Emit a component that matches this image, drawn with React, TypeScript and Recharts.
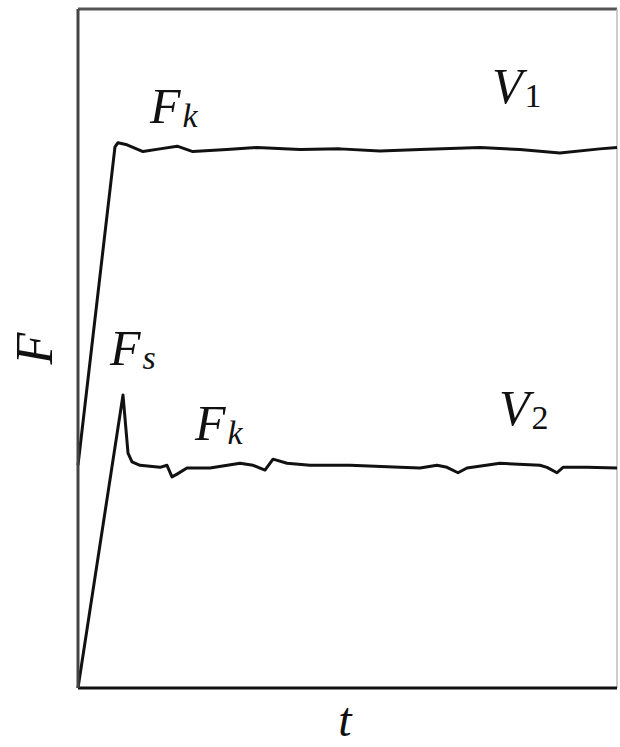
import React from 'react';
import { LineChart, Line, XAxis, YAxis, ReferenceLine, ReferenceDot } from 'recharts';

// friction force F against time t, for two pulling speeds
const v1Time = [0, 6.86, 7.42, 9.09, 12.06, 15.2, 18.4, 21.3, 27.6, 33.2, 41.2, 48.6, 56.0, 63.5, 74.6, 82.0, 89.4, 96.8, 100];
const v1Force = [32.8, 79.7, 80.3, 80.0, 79.0, 79.4, 79.8, 79.0, 79.3, 79.6, 79.3, 79.4, 79.1, 79.3, 79.6, 79.3, 78.8, 79.4, 79.6];

const v2Time = [0, 8.35, 9.28, 10.02, 11.5, 15.21, 16.51, 17.44, 18.37, 20.22, 24.49, 30.06, 32.47, 34.69, 36.18, 38.78, 43.04, 50.46, 59.74, 63.45, 66.6, 68.46, 70.5, 72.17, 78.29, 85.71, 87.01, 88.87, 89.98, 94.43, 100];
const v2Force = [0, 43.15, 34.6, 33.3, 32.8, 32.5, 32.8, 31.1, 31.5, 32.4, 32.4, 33.1, 32.8, 32.1, 33.7, 33.1, 32.8, 32.8, 32.5, 32.4, 32.8, 32.5, 31.7, 32.4, 33.1, 32.8, 32.5, 31.7, 32.5, 32.5, 32.4];

// annotations: [main letter, subscript, t, F, subscript italic?]
const notes: [string, string, number, number, boolean][] = [
  ['F', 'k', 13.36, 83.2, true],
  ['V', '1', 76.8, 86.2, false],
  ['F', 's', 5.94, 47.6, true],
  ['F', 'k', 21.7, 36.5, true],
  ['V', '2', 78.1, 38.7, false],
];

const v1Data = v1Time.map((t, i) => ({ t, F: v1Force[i] }));
const v2Data = v2Time.map((t, i) => ({ t, F: v2Force[i] }));

const FONT = 'Liberation Serif';
const INK = '#111';

const NoteLabel = ({ viewBox, main, sub, subItalic }: any) => {
  if (!viewBox) return null;
  return (
    <text x={viewBox.x} y={viewBox.y} style={{ fontFamily: FONT }} fill={INK} fontSize={50}>
      <tspan fontStyle="italic">{main}</tspan>
      <tspan fontSize={34} dy={4} dx={2} fontStyle={subItalic ? 'italic' : 'normal'}>{sub}</tspan>
    </text>
  );
};

const YLabel = ({ viewBox }: any) => {
  if (!viewBox) return null;
  const x = viewBox.x + 52;
  const y = viewBox.y + viewBox.height / 2;
  return (
    <text x={x} y={y} transform={`rotate(-90, ${x}, ${y})`} textAnchor="middle" style={{ fontFamily: FONT }} fontStyle="italic" fontSize={52} fill={INK}>
      F
    </text>
  );
};

const XLabel = ({ viewBox }: any) => {
  if (!viewBox) return null;
  return (
    <text x={viewBox.x + 267} y={viewBox.y + 48} textAnchor="middle" style={{ fontFamily: FONT }} fontStyle="italic" fontSize={48} fill={INK}>
      t
    </text>
  );
};

export default function App() {
  return (
    <div style={{ position: 'absolute', left: 0, top: 0, background: '#fff' }}>
      <LineChart width={620} height={747} margin={{ top: 9, right: 3, bottom: 0, left: 0 }}>
        <XAxis
          type="number"
          dataKey="t"
          domain={[0, 100]}
          tick={false}
          tickLine={false}
          height={59}
          axisLine={{ stroke: '#111', strokeWidth: 3 }}
          label={<XLabel />}
        />
        <YAxis
          type="number"
          dataKey="F"
          domain={[0, 100]}
          tick={false}
          tickLine={false}
          width={78}
          axisLine={{ stroke: '#444', strokeWidth: 3 }}
          label={<YLabel />}
        />
        <ReferenceLine y={100} stroke="#555" strokeWidth={3} />
        <ReferenceLine x={100} stroke="#bbb" strokeWidth={1.5} />
        <Line data={v1Data} dataKey="F" type="linear" stroke={INK} strokeWidth={3} dot={false} strokeLinejoin="round" isAnimationActive={false} />
        <Line data={v2Data} dataKey="F" type="linear" stroke={INK} strokeWidth={3} dot={false} strokeLinejoin="round" isAnimationActive={false} />
        {notes.map(([main, sub, t, f, subItalic], i) => (
          <ReferenceDot
            key={i}
            x={t}
            y={f}
            r={0}
            fill="none"
            stroke="none"
            label={<NoteLabel main={main} sub={sub} subItalic={subItalic} />}
          />
        ))}
      </LineChart>
    </div>
  );
}
